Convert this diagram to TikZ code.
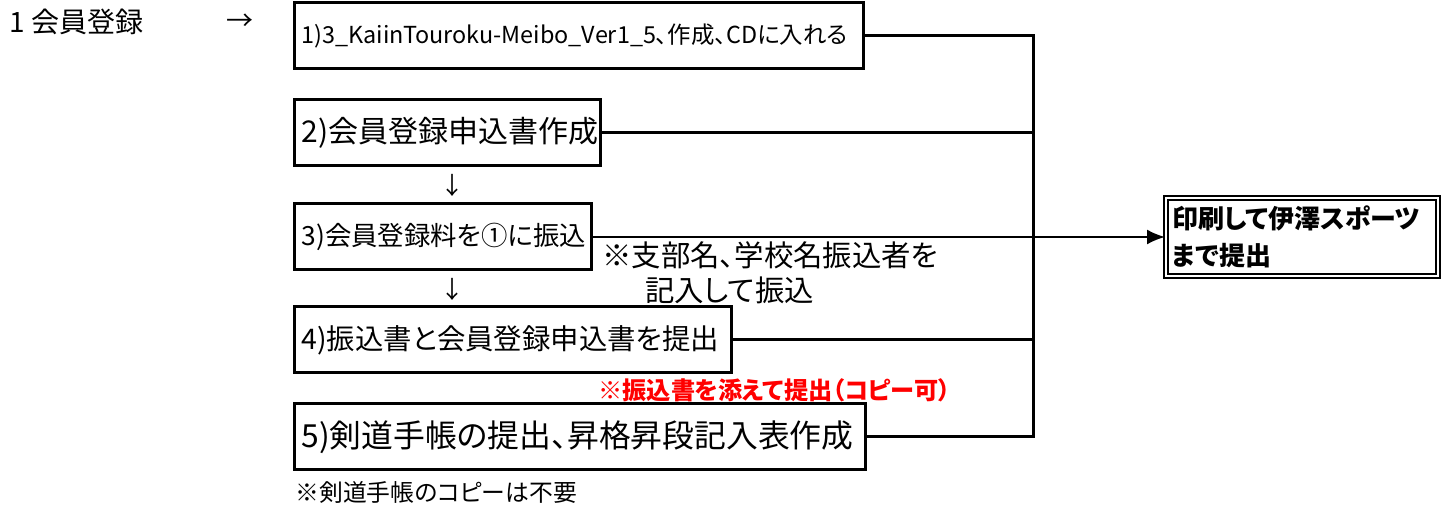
\documentclass[tikz,border=0pt]{standalone}
\usepackage{fontspec}
\setmainfont{Noto Sans CJK JP}[RawFeature=+palt]
\usetikzlibrary{arrows.meta}
\begin{document}
\begin{tikzpicture}[x=0.5pt, y=-0.5pt,
    stepbox/.style={draw, line width=1.5pt, anchor=west, inner xsep=3.5pt, inner ysep=0pt,
      align=left, minimum height=33pt, font=\fontsize{15}{18}\selectfont},
    printbox/.style={draw, line width=1pt, double, double distance=1pt, anchor=west,
      inner xsep=3pt, inner ysep=0pt, align=left, text width=130pt, minimum height=39pt,
      font=\fontsize{13}{18.5}\selectfont\bfseries},
    link/.style={line width=1.5pt},
    note/.style={anchor=west, inner sep=0pt}]
  \useasboundingbox (0, 0) rectangle (1453, 506);

  \def\busx{1033}

  \node[note, font=\fontsize{14}{16}\selectfont] (title) at (9, 22) {1 会員登録};
  \node[note, font=\fontsize{13.5}{16}\selectfont] (then) at (226, 22) {→};

  \node[stepbox, text width=277.5pt, font=\fontsize{11.7}{14}\selectfont] (make) at (293, 36)
    {\mbox{1)3\_KaiinTouroku-Meibo\_Ver1\_5、作成、CDに入れる}};
  \node[stepbox, text width=146pt] (form) at (293, 133) {2)会員登録申込書作成};
  \node[stepbox, text width=141.5pt, font=\fontsize{13.2}{16}\selectfont] (pay) at (293, 237)
    {\mbox{3)会員登録料を①に振込}};
  \node[stepbox, text width=211.5pt, font=\fontsize{14.2}{16}\selectfont] (submit) at (293, 340)
    {\mbox{4)振込書と会員登録申込書を提出}};
  \node[stepbox, text width=278.5pt, font=\fontsize{15.9}{18}\selectfont] (book) at (293, 437)
    {\mbox{5)剣道手帳の提出、昇格昇段記入表作成}};
  \node[printbox] (print) at (1165, 237) {印刷して伊澤スポーツ\\まで提出};

  \node[note, font=\fontsize{12}{14}\selectfont] (down1) at (440, 185) {↓};
  \node[note, font=\fontsize{12}{14}\selectfont] (down2) at (440, 289) {↓};

  \node[note, font=\fontsize{14.7}{17}\selectfont] (memo1) at (602, 255) {※支部名、学校名振込者を};
  \node[note, font=\fontsize{14.7}{17}\selectfont] (memo2) at (645, 290) {記入して振込};
  \node[note, text=red, font=\fontsize{12.1}{14}\selectfont\bfseries] (copyok) at (598, 390)
    {※振込書を添えて提出（コピー可）};
  \node[note, font=\fontsize{11.9}{14}\selectfont] (nocopy) at (295, 492) {※剣道手帳のコピーは不要};

  \coordinate (bus) at (\busx, 0);
  \draw[link] (make) -- (make -| bus) -- (book -| bus) -- (book);
  \draw[link] (form) -- (form -| bus);
  \draw[link] (submit) -- (submit -| bus);
  \draw[line width=1pt, -{Latex[length=9pt, width=7.5pt]}] (pay) -- (print);
\end{tikzpicture}
\end{document}
